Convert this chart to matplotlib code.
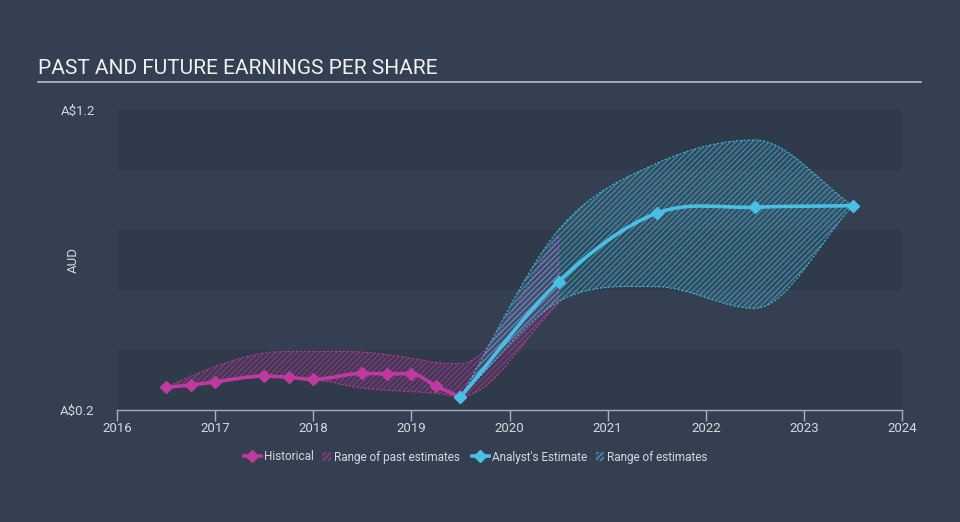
import numpy as np
import matplotlib
matplotlib.use("Agg")
import matplotlib.pyplot as plt
from matplotlib.path import Path
from matplotlib.patches import PathPatch, Patch, Rectangle
from matplotlib.lines import Line2D
from matplotlib.legend_handler import HandlerPatch

# ---------------- data ----------------
hist_years = [2016.5, 2016.75, 2017.0, 2017.5, 2017.75, 2018.0, 2018.5, 2018.75, 2019.0, 2019.25, 2019.5]
hist_eps = [0.276, 0.283, 0.294, 0.313, 0.309, 0.302, 0.322, 0.321, 0.321, 0.280, 0.243]

past_years = [2016.5, 2017.0, 2017.5, 2018.0, 2018.5, 2019.0, 2019.25, 2019.5, 2020.5]
past_low = [0.276, 0.290, 0.310, 0.302, 0.273, 0.261, 0.256, 0.244, 0.556]
past_high = [0.276, 0.345, 0.390, 0.395, 0.393, 0.373, 0.358, 0.355, 0.780]

est_years = [2019.5, 2020.5, 2021.5, 2022.5, 2023.5]
est_eps = [0.243, 0.628, 0.856, 0.876, 0.881]
est_low = [0.243, 0.561, 0.611, 0.539, 0.881]
est_high = [0.243, 0.800, 1.022, 1.100, 0.881]

x_ticks = [2016, 2017, 2018, 2019, 2020, 2021, 2022, 2023, 2024]
y_ticks = [0.2, 1.2]
y_ticklabels = ["A$0.2", "A$1.2"]

# ---------------- style ----------------
BG = "#344051"
BAND = "#2f3b4b"
MAG = "#c0399f"
BLUE = "#48c0e6"
TXT = "#d5d9de"

plt.rcParams["font.family"] = ["Roboto", "DejaVu Sans"]
plt.rcParams["hatch.linewidth"] = 0.6


def spline_codes(xs, ys):
    """Monotone-style cubic Hermite through points -> Bezier vertices/codes."""
    x = np.asarray(xs, float)
    y = np.asarray(ys, float)
    n = len(x)
    h = np.diff(x)
    d = np.diff(y) / h
    m = np.zeros(n)
    m[0] = d[0]
    m[-1] = d[-1]
    for i in range(1, n - 1):
        if d[i - 1] * d[i] <= 0:
            m[i] = 0.0
        else:
            m[i] = (d[i - 1] * h[i] + d[i] * h[i - 1]) / (h[i] + h[i - 1])
    verts = [(x[0], y[0])]
    codes = [Path.MOVETO]
    for i in range(n - 1):
        c1 = (x[i] + h[i] / 3, y[i] + m[i] * h[i] / 3)
        c2 = (x[i + 1] - h[i] / 3, y[i + 1] - m[i + 1] * h[i] / 3)
        verts += [c1, c2, (x[i + 1], y[i + 1])]
        codes += [Path.CURVE4] * 3
    return verts, codes


def band_path(xs, lo, hi):
    v1, c1 = spline_codes(xs, hi)
    v2, c2 = spline_codes(xs, lo)
    v2r = v2[::-1]
    verts = v1 + [v2r[0]] + v2r[1:] + [v1[0]]
    codes = c1 + [Path.LINETO] + [Path.CURVE4] * (len(v2r) - 1) + [Path.CLOSEPOLY]
    return Path(verts, codes)


fig = plt.figure(figsize=(9.6, 5.22), dpi=100, facecolor=BG)
ax = fig.add_axes([117 / 960, 1 - 410 / 522, (902 - 117) / 960, 300 / 522])
ax.set_facecolor(BG)
ax.set_xlim(2016, 2024)
ax.set_ylim(0.2, 1.2)

# background bands
for lo_b in [0.2, 0.6, 1.0]:
    ax.axhspan(lo_b, lo_b + 0.2, color=BAND, lw=0, zorder=0)

# ranges
for xs, lo, hi, col in [(past_years, past_low, past_high, MAG), (est_years, est_low, est_high, BLUE)]:
    path = band_path(xs, lo, hi)
    rgb = matplotlib.colors.to_rgb(col)
    ax.add_patch(PathPatch(path, facecolor=(*rgb, 0.13), edgecolor=(*rgb, 0.75),
                           lw=0, hatch="//////", zorder=2))
    ax.add_patch(PathPatch(path, fill=False, edgecolor=(*rgb, 0.9), lw=0.8,
                           linestyle=(0, (2, 1.5)), zorder=2))

# lines
for xs, ys, col in [(hist_years, hist_eps, MAG), (est_years, est_eps, BLUE)]:
    v, c = spline_codes(xs, ys)
    ax.add_patch(PathPatch(Path(v, c), fill=False, edgecolor=col, lw=2.6, zorder=3,
                           capstyle="round", joinstyle="round"))
    ax.plot(xs, ys, linestyle="none", marker="D", markersize=6, color=col, zorder=4)

# axes styling
for s in ["top", "right", "left"]:
    ax.spines[s].set_visible(False)
ax.spines["bottom"].set_color("#a9b0b8")
ax.spines["bottom"].set_linewidth(1.0)
ax.set_xticks(x_ticks)
ax.set_xticklabels([str(t) for t in x_ticks])
ax.tick_params(axis="x", colors="#a9b0b8", labelcolor=TXT, length=8, width=1.0,
               labelsize=9.5, pad=1)
ax.set_yticks(y_ticks)
ax.set_yticklabels(y_ticklabels)
ax.tick_params(axis="y", length=0, labelsize=9.5, labelcolor=TXT, pad=16)
ax.set_ylabel("AUD", color=TXT, fontsize=9.5, labelpad=-14)

# title
fig.text(38 / 960, 1 - 68 / 522, "PAST AND FUTURE EARNINGS PER SHARE", color="#eef0f2",
         fontsize=15, va="center", ha="left")
fig.add_artist(Line2D([38 / 960, 921 / 960], [1 - 82 / 522, 1 - 82 / 522],
                      color="#b8bec6", lw=1.2))


# legends
def small_patch(legend, orig_handle, xdescent, ydescent, width, height, fontsize):
    w = 6.0
    return Rectangle((width - w - xdescent, -ydescent), w, height)


hm = {Patch: HandlerPatch(patch_func=small_patch)}
h1 = [Line2D([], [], color=MAG, marker="D", markersize=6, lw=2.6),
      Patch(facecolor=(*matplotlib.colors.to_rgb(MAG), 0.1), edgecolor=MAG, lw=0, hatch="//////")]
h2 = [Line2D([], [], color=BLUE, marker="D", markersize=6, lw=2.6),
      Patch(facecolor=(*matplotlib.colors.to_rgb(BLUE), 0.1), edgecolor=BLUE, lw=0, hatch="//////")]
leg_kw = dict(ncol=2, frameon=False, fontsize=8.5, labelcolor=TXT, handlelength=1.4,
              handletextpad=0.3, columnspacing=0.0, loc="center", handler_map=hm)
l1 = fig.legend(h1, ["Historical", "Range of past estimates"],
                bbox_to_anchor=(352 / 960, 1 - 457 / 522), **leg_kw)
l2 = fig.legend(h2, ["Analyst's Estimate", "Range of estimates"],
                bbox_to_anchor=(590 / 960, 1 - 457 / 522), **leg_kw)

fig.savefig("out.png", dpi=100, facecolor=BG)
